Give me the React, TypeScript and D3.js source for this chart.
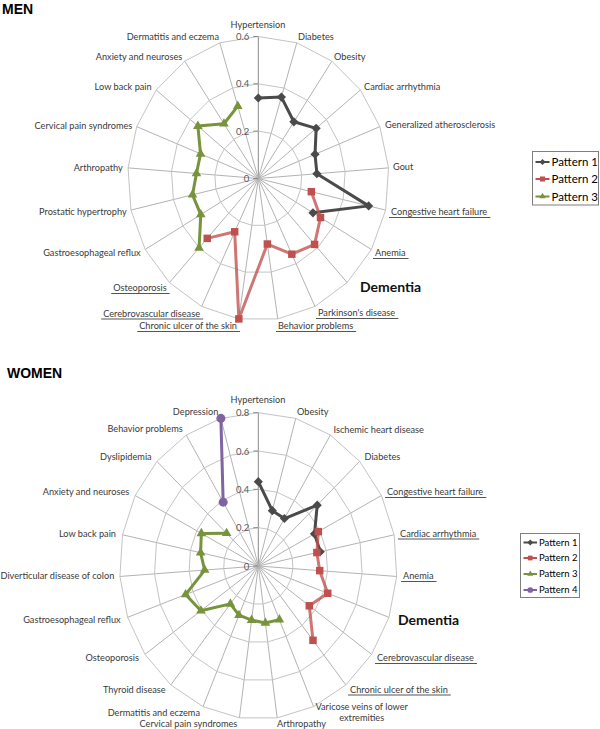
import React, { useEffect, useRef } from 'react';
import * as d3 from 'd3';

// ---------------- DATA ----------------
const menCategories = [
  'Hypertension', 'Diabetes', 'Obesity', 'Cardiac arrhythmia', 'Generalized atherosclerosis', 'Gout',
  'Congestive heart failure', 'Anemia', 'Dementia', "Parkinson's disease", 'Behavior problems',
  'Chronic ulcer of the skin', 'Cerebrovascular disease', 'Osteoporosis', 'Gastroesophageal reflux',
  'Prostatic hypertrophy', 'Arthropathy', 'Cervical pain syndromes', 'Low back pain',
  'Anxiety and neuroses', 'Dermatitis and eczema',
];
const menPattern1 = [0.34, 0.36, 0.29, 0.34, 0.28, 0.27, 0.52, 0.29, null, null, null, null, null, null, null, null, null, null, null, null, null];
const menPattern2 = [null, null, null, null, null, null, 0.25, 0.33, 0.38, 0.355, 0.28, 0.6, 0.25, 0.345, null, null, null, null, null, null, null];
const menPattern3 = [null, null, null, null, null, null, null, null, null, null, null, null, null, 0.4, 0.305, 0.31, 0.285, 0.285, 0.355, 0.28, 0.32];
const menTicks = [0, 0.2, 0.4, 0.6];

const womenCategories = [
  'Hypertension', 'Obesity', 'Ischemic heart disease', 'Diabetes', 'Congestive heart failure',
  'Cardiac arrhythmia', 'Anemia', 'Dementia', 'Cerebrovascular disease', 'Chronic ulcer of the skin',
  'Varicose veins of lower extremities', 'Arthropathy', 'Cervical pain syndromes', 'Dermatitis and eczema',
  'Thyroid disease', 'Osteoporosis', 'Gastroesophageal reflux', 'Diverticular disease of colon',
  'Low back pain', 'Anxiety and neuroses', 'Dyslipidemia', 'Behavior problems', 'Depression',
];
const womenPattern1 = [0.44, 0.30, 0.29, 0.465, 0.365, 0.365, null, null, null, null, null, null, null, null, null, null, null, null, null, null, null, null, null];
const womenPattern2 = [null, null, null, null, 0.39, 0.345, 0.355, 0.425, 0.36, 0.5, null, null, null, null, null, null, null, null, null, null, null, null, null];
const womenPattern3 = [null, null, null, null, null, null, null, null, null, null, 0.305, 0.30, 0.285, 0.28, 0.255, 0.405, 0.445, 0.31, 0.34, 0.37, 0.25, null, null];
const womenPattern4 = [null, null, null, null, null, null, null, null, null, null, null, null, null, null, null, null, null, null, null, null, null, 0.39, 0.8];
const womenTicks = [0, 0.2, 0.4, 0.6, 0.8];

const patternNames = ['Pattern 1', 'Pattern 2', 'Pattern 3', 'Pattern 4'];

// ---------------- LAYOUT / STYLE ----------------
const seriesStyles = [
  { color: '#4a4a4a', line: '#4a4a4a', lineOpacity: 1, symbol: 'diamond' },
  { color: '#c0504d', line: '#c0504d', lineOpacity: 0.78, symbol: 'square' },
  { color: '#77933c', line: '#77933c', lineOpacity: 1, symbol: 'triangle' },
  { color: '#8064a2', line: '#8064a2', lineOpacity: 1, symbol: 'circle' },
];

type LabelPos = { x: number; y: number; a: string; u?: boolean; bold?: boolean; br?: number };

const menLabelPos: LabelPos[] = [
  { x: 258, y: 27.5, a: 'middle' },
  { x: 298, y: 40, a: 'start' },
  { x: 334, y: 59.5, a: 'start' },
  { x: 364, y: 89.5, a: 'start' },
  { x: 385, y: 128, a: 'start' },
  { x: 393, y: 170, a: 'start' },
  { x: 391, y: 215, a: 'start', u: true },
  { x: 375, y: 256, a: 'start', u: true },
  { x: 360, y: 291.5, a: 'start', bold: true },
  { x: 318, y: 316, a: 'start', u: true },
  { x: 278, y: 329, a: 'start', u: true },
  { x: 237, y: 329, a: 'end', u: true },
  { x: 200, y: 316.5, a: 'end', u: true },
  { x: 166.7, y: 291, a: 'end', u: true },
  { x: 140.7, y: 256, a: 'end' },
  { x: 126.7, y: 215, a: 'end' },
  { x: 122.7, y: 170.5, a: 'end' },
  { x: 132.3, y: 128.5, a: 'end' },
  { x: 151.7, y: 89.5, a: 'end' },
  { x: 182.3, y: 59.5, a: 'end' },
  { x: 219, y: 40, a: 'end' },
];

const womenLabelPos: LabelPos[] = [
  { x: 258, y: 402.5, a: 'middle' },
  { x: 297, y: 415, a: 'start' },
  { x: 333.5, y: 432.5, a: 'start' },
  { x: 364.5, y: 460, a: 'start' },
  { x: 387, y: 495, a: 'start', u: true },
  { x: 400, y: 536.5, a: 'start', u: true },
  { x: 403, y: 579, a: 'start', u: true },
  { x: 398, y: 625, a: 'start', bold: true },
  { x: 377, y: 661, a: 'start', u: true },
  { x: 350, y: 692.5, a: 'start', u: true },
  { x: 361.7, y: 710, a: 'middle', br: 4 },
  { x: 277, y: 726.5, a: 'start' },
  { x: 237.3, y: 726.5, a: 'end' },
  { x: 200, y: 715.5, a: 'end' },
  { x: 165.7, y: 692.5, a: 'end' },
  { x: 139, y: 661, a: 'end' },
  { x: 120.7, y: 622.5, a: 'end' },
  { x: 0.5, y: 579, a: 'start' },
  { x: 116, y: 536.5, a: 'end' },
  { x: 129.3, y: 495, a: 'end' },
  { x: 151.7, y: 460, a: 'end' },
  { x: 182.7, y: 432.3, a: 'end' },
  { x: 218.3, y: 415, a: 'end' },
];

const LABEL_FONT = "Lato, 'Open Sans', sans-serif";
const LABEL_SIZE = 9.2;
const TEXT_COLOR = '#3a3a3a';

function symbolPath(kind: string, size: number) {
  const t = kind === 'diamond' || kind === 'square' ? d3.symbolSquare : kind === 'triangle' ? d3.symbolTriangle : d3.symbolCircle;
  return d3.symbol().type(t).size(size)() as string;
}

function markerSize(kind: string) {
  if (kind === 'diamond') return 42;
  if (kind === 'square') return 56;
  if (kind === 'triangle') return 40;
  return 64;
}

type Spec = {
  cx: number; cy: number; rx: number; ry: number; max: number;
  title: string; titleY: number; titleX: number;
  categories: string[]; series: (number | null)[][]; ticks: number[]; labels: LabelPos[];
  legend: { x: number; y: number; w: number; h: number; rowY: number[]; fontSize: number; lineLen: number; mscale: number };
};

function drawRadar(svg: d3.Selection<SVGSVGElement, unknown, null, undefined>, s: Spec) {
  const g = svg.append('g');
  const n = s.categories.length;
  const ang = (i: number) => (i * 2 * Math.PI) / n;
  const xs = d3.scaleLinear().domain([0, s.max]).range([0, s.rx]);
  const ys = d3.scaleLinear().domain([0, s.max]).range([0, s.ry]);
  const px = (i: number, v: number) => s.cx + xs(v) * Math.sin(ang(i));
  const py = (i: number, v: number) => s.cy - ys(v) * Math.cos(ang(i));

  // title
  svg.append('text').attr('x', s.titleX).attr('y', s.titleY).text(s.title)
    .attr('font-family', "'Liberation Sans', Arial, sans-serif").attr('font-weight', 'bold')
    .attr('font-size', 14).attr('fill', '#000');

  // spokes
  g.append('g').selectAll('line').data(s.categories).join('line')
    .attr('x1', s.cx).attr('y1', s.cy)
    .attr('x2', (_, i) => px(i, s.max)).attr('y2', (_, i) => py(i, s.max))
    .attr('stroke', (_, i) => (i === 0 ? '#8a8a8a' : '#b3b3b3')).attr('stroke-width', 1);

  // rings
  s.ticks.filter(t => t > 0).forEach(t => {
    const pts = s.categories.map((_, i) => [px(i, t), py(i, t)] as [number, number]);
    g.append('path').attr('d', d3.line().curve(d3.curveLinearClosed)(pts) as string)
      .attr('fill', 'none').attr('stroke', '#c4c4c4').attr('stroke-width', 1);
  });

  // value axis ticks and labels
  s.ticks.forEach(t => {
    const y = s.cy - ys(t);
    g.append('line').attr('x1', s.cx - 5).attr('x2', s.cx).attr('y1', y).attr('y2', y)
      .attr('stroke', '#8a8a8a').attr('stroke-width', 1);
    g.append('text').attr('x', s.cx - 9).attr('y', y + 3.5).attr('text-anchor', 'end')
      .attr('font-family', LABEL_FONT).attr('font-size', 9.5).attr('fill', '#595959')
      .text(t === 0 ? '0' : d3.format('.1f')(t));
  });

  // category labels
  s.categories.forEach((c, i) => {
    const L = s.labels[i];
    const t = g.append('text').attr('x', L.x).attr('y', L.y).attr('text-anchor', L.a)
      .attr('font-family', LABEL_FONT).attr('fill', L.bold ? '#111' : TEXT_COLOR)
      .attr('font-size', L.bold ? 14 : LABEL_SIZE).attr('font-weight', L.bold ? 'bold' : 'normal');
    if (L.br) {
      const words = c.split(' ');
      t.append('tspan').attr('x', L.x).text(words.slice(0, L.br).join(' '));
      t.append('tspan').attr('x', L.x).attr('dy', 11).text(words.slice(L.br).join(' '));
    } else {
      t.text(c);
    }
    if (L.u) {
      const bb = (t.node() as SVGTextElement).getBBox();
      g.append('line').attr('x1', bb.x - 2).attr('x2', bb.x + bb.width + 3)
        .attr('y1', L.y + 2.5).attr('y2', L.y + 2.5)
        .attr('stroke', '#555').attr('stroke-width', 1);
    }
  });

  // series
  s.series.forEach((vals, si) => {
    const st = seriesStyles[si];
    const line = d3.line<number | null>()
      .defined(v => v !== null)
      .x((v, i) => px(i, v as number)).y((v, i) => py(i, v as number));
    g.append('path').attr('d', line(vals) as string).attr('fill', 'none')
      .attr('stroke', st.line).attr('stroke-opacity', st.lineOpacity)
      .attr('stroke-width', 3).attr('stroke-linejoin', 'round');
    const pts = vals.map((v, i) => ({ v, i })).filter(d => d.v !== null);
    g.append('g').selectAll('path').data(pts).join('path')
      .attr('d', symbolPath(st.symbol, markerSize(st.symbol)))
      .attr('transform', d => `translate(${px(d.i, d.v as number)},${py(d.i, d.v as number)})${st.symbol === 'diamond' ? ' rotate(45)' : ''}`)
      .attr('fill', st.color);
  });

  // legend
  const lg = svg.append('g');
  const L = s.legend;
  lg.append('rect').attr('x', L.x).attr('y', L.y).attr('width', L.w).attr('height', L.h)
    .attr('fill', '#fff').attr('stroke', '#7f7f7f').attr('stroke-width', 1);
  s.series.forEach((_, si) => {
    const st = seriesStyles[si];
    const y = L.rowY[si];
    const x0 = L.x + 3;
    lg.append('line').attr('x1', x0).attr('x2', x0 + L.lineLen).attr('y1', y).attr('y2', y)
      .attr('stroke', st.color).attr('stroke-width', 2);
    lg.append('path').attr('d', symbolPath(st.symbol, markerSize(st.symbol) * L.mscale))
      .attr('transform', `translate(${x0 + L.lineLen / 2},${y})${st.symbol === 'diamond' ? ' rotate(45)' : ''}`)
      .attr('fill', st.color);
    lg.append('text').attr('x', x0 + L.lineLen + 2).attr('y', y + L.fontSize * 0.36)
      .attr('font-family', LABEL_FONT).attr('font-size', L.fontSize).attr('fill', '#000')
      .text(patternNames[si]);
  });
}

export default function App() {
  const ref = useRef<SVGSVGElement>(null);
  useEffect(() => {
    const svg = d3.select(ref.current as SVGSVGElement);
    svg.selectAll('*').remove();
    drawRadar(svg, {
      cx: 258.3, cy: 178.5, ry: 142, rx: 130.6, max: 0.6,
      title: 'MEN', titleX: 2, titleY: 14,
      categories: menCategories, series: [menPattern1, menPattern2, menPattern3], ticks: menTicks,
      labels: menLabelPos,
      legend: { x: 532.5, y: 151.5, w: 66, h: 53.5, rowY: [162, 179, 196.5], fontSize: 11.5, lineLen: 14, mscale: 0.45 },
    });
    drawRadar(svg, {
      cx: 258.3, cy: 566, ry: 153.3, rx: 138.7, max: 0.8,
      title: 'WOMEN', titleX: 7, titleY: 378,
      categories: womenCategories, series: [womenPattern1, womenPattern2, womenPattern3, womenPattern4], ticks: womenTicks,
      labels: womenLabelPos,
      legend: { x: 520.5, y: 533.5, w: 59, h: 64, rowY: [542.5, 558, 574, 590], fontSize: 9.5, lineLen: 13.5, mscale: 0.4 },
    });
  }, []);
  return (
    <svg ref={ref} width={600} height={729}
      style={{ position: 'absolute', left: 0, top: 0, background: '#fff' }} />
  );
}
